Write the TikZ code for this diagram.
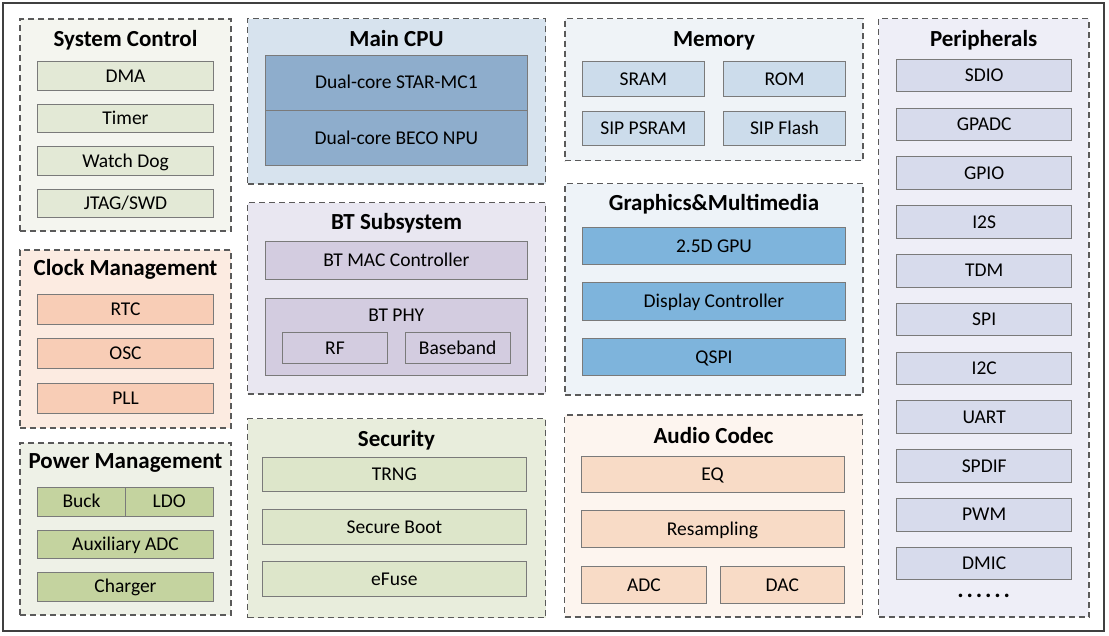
\documentclass[tikz,border=0pt]{standalone}
\usepackage{fontspec}
\setmainfont{Carlito}
\definecolor{sysBox}{HTML}{F4F5EF}\definecolor{sysItem}{HTML}{E3E9D6}
\definecolor{clkBox}{HTML}{FCEBE1}\definecolor{clkItem}{HTML}{F8CDB6}
\definecolor{pwrBox}{HTML}{EEF1E7}\definecolor{pwrItem}{HTML}{C4D39F}
\definecolor{cpuBox}{HTML}{D7E3EE}\definecolor{cpuItem}{HTML}{8EADCC}
\definecolor{btBox}{HTML}{E9E7F1}\definecolor{btItem}{HTML}{D3CCE0}
\definecolor{secBox}{HTML}{E8EDDC}\definecolor{secItem}{HTML}{DDE6CA}
\definecolor{memBox}{HTML}{EFF3F7}\definecolor{memItem}{HTML}{CCDCEB}
\definecolor{gfxBox}{HTML}{EEF3F8}\definecolor{gfxItem}{HTML}{7EB4DC}
\definecolor{audBox}{HTML}{FDF5EF}\definecolor{audItem}{HTML}{F8DBC6}
\definecolor{perBox}{HTML}{EEEEF7}\definecolor{perItem}{HTML}{D7DBEC}
\definecolor{frameC}{HTML}{404040}
\definecolor{dashC}{HTML}{5A5A5A}
\definecolor{itemC}{HTML}{7A7A7A}
\newcommand\blk[7]{\node[#6, minimum width={(#4)-(#2)}, minimum height={(#5)-(#3)}] (#1) at ({((#2)+(#4))/2},{((#3)+(#5))/2}) {#7};}
\tikzset{
  group/.style={draw=dashC, line width=1.2pt, dash pattern=on 6pt off 4pt, rectangle, inner sep=0pt, outer sep=0pt},
  item/.style={draw=itemC, line width=0.9pt, rectangle, inner sep=0pt, outer sep=0pt, font=\fontsize{19.5}{21}\selectfont, text height=12.4pt, text depth=0pt, text=black},
  ttl/.style={font=\fontsize{23}{25}\selectfont\bfseries, inner sep=0pt, text height=14.8pt, text depth=0pt, text=black},
  lbl/.style={font=\fontsize{19.5}{21}\selectfont, inner sep=0pt, text height=12.4pt, text depth=0pt, text=black},
}
\begin{document}
\begin{tikzpicture}[x=1pt,y=-1pt]
\useasboundingbox (0,0) rectangle (1109,635);
\fill[white] (0,0) rectangle (1109,635);
\blk{frame}{3}{3}{1104}{631}{draw=frameC, line width=2.5pt, rectangle, inner sep=0pt}{}
% System Control
\blk{sys}{20}{19}{231}{231}{group, fill=sysBox}{}
\node[ttl] (sysT) at (125.5,39) {System Control};
\blk{dma}{37.7}{61.7}{213.3}{90.3}{item, fill=sysItem}{DMA}
\blk{tmr}{37.7}{104.3}{213.3}{132.7}{item, fill=sysItem}{Timer}
\blk{wdg}{37.7}{146.7}{213.3}{175}{item, fill=sysItem}{Watch Dog}
\blk{jtag}{37.7}{189}{213.3}{217.3}{item, fill=sysItem}{JTAG/SWD}
% Clock Management
\blk{clk}{20}{250}{231}{428}{group, fill=clkBox}{}
\node[ttl] (clkT) at (125.5,268) {Clock Management};
\blk{rtc}{37.7}{294}{213.3}{324}{item, fill=clkItem}{RTC}
\blk{osc}{37.7}{338.3}{213.3}{368.3}{item, fill=clkItem}{OSC}
\blk{pll}{37.7}{383.3}{213.3}{413.3}{item, fill=clkItem}{PLL}
% Power Management
\blk{pwr}{20}{443}{231}{615}{group, fill=pwrBox}{}
\node[ttl] (pwrT) at (125.5,461) {Power Management};
\blk{buck}{37.7}{487.3}{125.3}{516}{item, fill=pwrItem}{Buck}
\blk{ldo}{125.3}{487.3}{213.3}{516}{item, fill=pwrItem}{LDO}
\blk{aux}{37.7}{530}{213.3}{558.3}{item, fill=pwrItem}{Auxiliary ADC}
\blk{chg}{37.7}{572.3}{213.3}{601}{item, fill=pwrItem}{Charger}
% Main CPU
\blk{cpu}{247.5}{18.5}{545.5}{184}{group, fill=cpuBox}{}
\node[ttl] (cpuT) at (396.5,39) {Main CPU};
\blk{star}{265}{55}{527.7}{110.3}{item, fill=cpuItem}{Dual-core STAR-MC1}
\blk{npu}{265}{110.3}{527.7}{165.7}{item, fill=cpuItem}{Dual-core BECO NPU}
% BT Subsystem
\blk{bt}{247.5}{202.5}{545.5}{394}{group, fill=btBox}{}
\node[ttl] (btT) at (396.5,222.5) {BT Subsystem};
\blk{mac}{265}{241}{527.7}{279}{item, fill=btItem}{BT MAC Controller}
\blk{phy}{265}{298.3}{527.7}{375}{item, fill=btItem}{}
\node[lbl] (phyT) at (396.3,315) {BT PHY};
\blk{rf}{282.3}{332.7}{387.7}{363.3}{item, fill=btItem}{RF}
\blk{bb}{405}{332.7}{510.3}{363.3}{item, fill=btItem}{Baseband}
% Security
\blk{sec}{247.5}{418.5}{545.5}{617.5}{group, fill=secBox}{}
\node[ttl] (secT) at (396.5,439) {Security};
\blk{trng}{262.7}{457.3}{526}{491.7}{item, fill=secItem}{TRNG}
\blk{sboot}{262.7}{509.3}{526}{544.3}{item, fill=secItem}{Secure Boot}
\blk{efuse}{262.7}{561.7}{526}{596.7}{item, fill=secItem}{eFuse}
% Memory
\blk{mem}{565}{18.5}{863}{160.5}{group, fill=memBox}{}
\node[ttl] (memT) at (714,39) {Memory};
\blk{sram}{582.3}{61.7}{704.3}{96.7}{item, fill=memItem}{SRAM}
\blk{rom}{723.3}{61.7}{845.7}{96.7}{item, fill=memItem}{ROM}
\blk{psram}{582.3}{111}{704.3}{145.7}{item, fill=memItem}{SIP PSRAM}
\blk{flash}{723.3}{111}{845.7}{145.7}{item, fill=memItem}{SIP Flash}
% Graphics & Multimedia
\blk{gfx}{565}{183.5}{863}{395}{group, fill=gfxBox}{}
\node[ttl] (gfxT) at (714,203.5) {Graphics\&Multimedia};
\blk{gpu}{582.3}{227.3}{845.7}{264.3}{item, fill=gfxItem}{2.5D GPU}
\blk{disp}{582.3}{282.7}{845.7}{320}{item, fill=gfxItem}{Display Controller}
\blk{qspi}{582.3}{338.3}{845.7}{375.7}{item, fill=gfxItem}{QSPI}
% Audio Codec
\blk{aud}{564.5}{415}{862.5}{617}{group, fill=audBox}{}
\node[ttl] (audT) at (713.5,436) {Audio Codec};
\blk{eq}{581}{456}{844}{492.7}{item, fill=audItem}{EQ}
\blk{rs}{581}{510.7}{844}{547.3}{item, fill=audItem}{Resampling}
\blk{adc}{581.7}{566.7}{706}{603.3}{item, fill=audItem}{ADC}
\blk{dac}{720.7}{566.7}{844}{603.3}{item, fill=audItem}{DAC}
% Peripherals
\blk{per}{878.5}{18.5}{1089}{617}{group, fill=perBox}{}
\node[ttl] (perT) at (983.7,39) {Peripherals};
\foreach \t [count=\i from 0] in {SDIO,GPADC,GPIO,I2S,TDM,SPI,I2C,UART,SPDIF,PWM,DMIC}{
  \pgfmathsetmacro\ya{59.3+48.8*\i}
  \pgfmathsetmacro\yb{\ya+32.5}
  \blk{p\i}{896.7}{\ya}{1071.7}{\yb}{item, fill=perItem}{\t}
}
\node[font=\fontsize{24}{24}\selectfont\bfseries, inner sep=0pt] (dots) at (983.7,596) {.\kern2.8pt.\kern2.8pt.\kern2.8pt.\kern2.8pt.\kern2.8pt.};
\end{tikzpicture}
\end{document}
